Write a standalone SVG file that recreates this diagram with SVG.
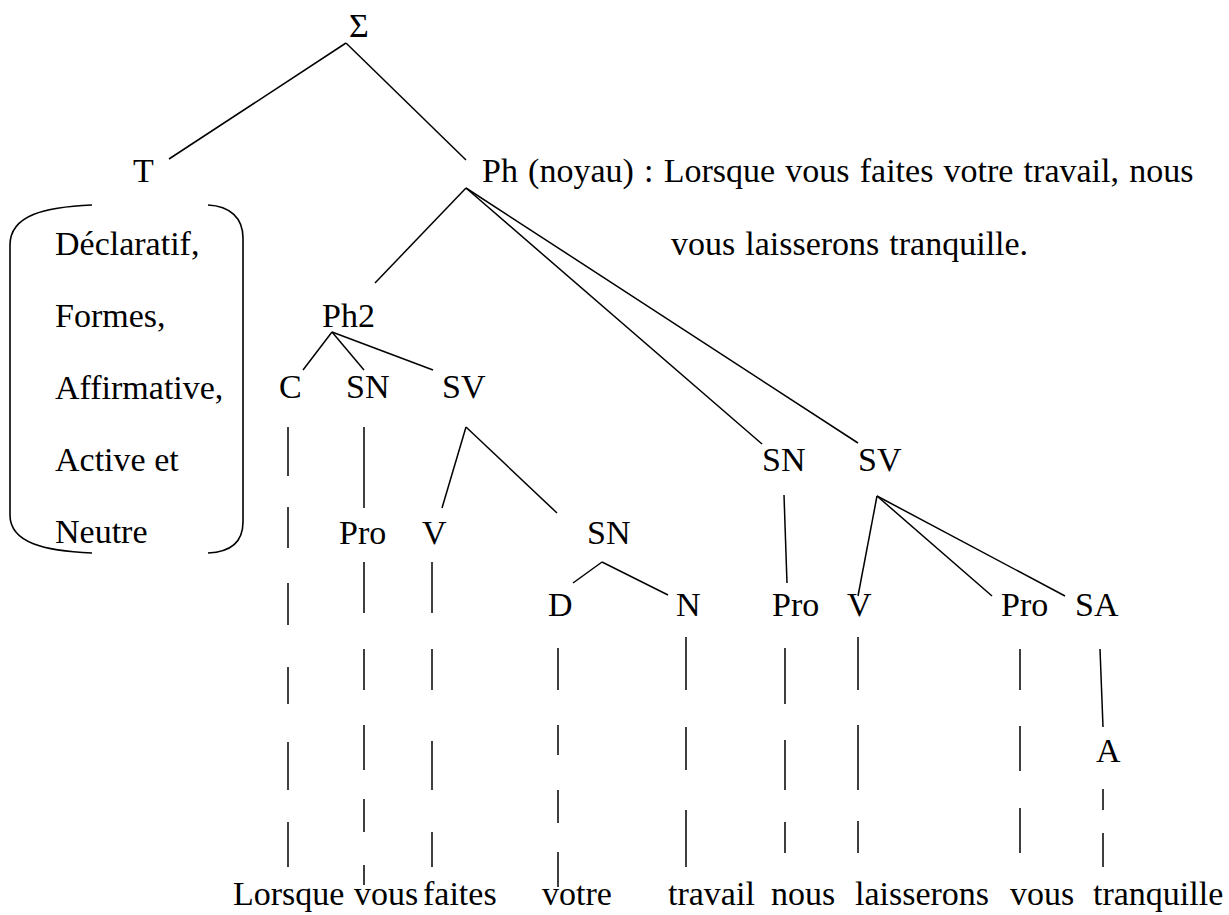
<svg xmlns="http://www.w3.org/2000/svg" width="1229" height="915" viewBox="0 0 1229 915">
  <style>
    text { font-family: "Liberation Serif", "Times New Roman", serif; font-size: 34px; fill: #000; }
    .edge { stroke: #000; stroke-width: 1.5; fill: none; stroke-linecap: butt; }
    .dash { stroke: #000; stroke-width: 1.5; fill: none; }
    .brace { stroke: #000; stroke-width: 1.6; fill: none; }
  </style>
  <rect width="1229" height="915" fill="#fff"/>

  <!-- tree nodes -->
  <g id="n-sigma"><text x="349" y="37">Σ</text></g>
  <g id="n-T"><text x="133" y="182">T</text></g>
  <g id="n-Ph">
    <text x="482" y="182" word-spacing="1.7">Ph (noyau) : Lorsque vous faites votre travail, nous</text>
    <text x="671" y="255" word-spacing="1.5">vous laisserons tranquille.</text>
  </g>
  <g id="n-T-features">
    <path class="brace" d="M92,205 C45,207 10,215 10,245 L10,515 C10,543 45,551 92,553"/>
    <path class="brace" d="M208,205 C230,206 243,218 243,238 L243,522 C243,542 230,552 208,553"/>
    <text x="55" y="255">Déclaratif,</text>
    <text x="55" y="327">Formes,</text>
    <text x="55" y="399">Affirmative,</text>
    <text x="55" y="471">Active et</text>
    <text x="55" y="543">Neutre</text>
  </g>
  <g id="n-Ph2"><text x="322" y="327">Ph2</text></g>
  <g id="n-C"><text x="279" y="398">C</text></g>
  <g id="n-SN1"><text x="346" y="398">SN</text></g>
  <g id="n-SV1"><text x="442" y="398">SV</text></g>
  <g id="n-Pro1"><text x="339" y="544">Pro</text></g>
  <g id="n-V1"><text x="422" y="544">V</text></g>
  <g id="n-SN2"><text x="587" y="544">SN</text></g>
  <g id="n-D"><text x="548" y="616">D</text></g>
  <g id="n-N"><text x="676" y="616">N</text></g>
  <g id="n-SN3"><text x="762" y="471">SN</text></g>
  <g id="n-SV3"><text x="858" y="471">SV</text></g>
  <g id="n-Pro3"><text x="772" y="616">Pro</text></g>
  <g id="n-V3"><text x="847" y="616">V</text></g>
  <g id="n-Pro4"><text x="1001" y="616">Pro</text></g>
  <g id="n-SA"><text x="1075" y="616">SA</text></g>
  <g id="n-A"><text x="1096" y="762">A</text></g>

  <!-- terminal words -->
  <g id="words">
    <text x="233" y="905">Lorsque</text>
    <text x="354" y="905">vous</text>
    <text x="423" y="905">faites</text>
    <text x="542" y="905">votre</text>
    <text x="668" y="905">travail</text>
    <text x="771" y="905">nous</text>
    <text x="855" y="905">laisserons</text>
    <text x="1010" y="905">vous</text>
    <text x="1093" y="905">tranquille</text>
  </g>

  <!-- branches -->
  <g id="connectors">
    <line class="edge" x1="346" y1="43" x2="169" y2="159"/>
    <line class="edge" x1="346" y1="43" x2="466" y2="160"/>
    <line class="edge" x1="466" y1="188" x2="375" y2="283"/>
    <line class="edge" x1="466" y1="188" x2="762" y2="444"/>
    <line class="edge" x1="466" y1="188" x2="858" y2="443"/>
    <line class="edge" x1="332" y1="332" x2="303" y2="370"/>
    <line class="edge" x1="332" y1="332" x2="364" y2="370"/>
    <line class="edge" x1="332" y1="332" x2="433" y2="370"/>
    <line class="edge" x1="364" y1="427" x2="364" y2="508"/>
    <line class="edge" x1="466" y1="427" x2="442" y2="508"/>
    <line class="edge" x1="466" y1="427" x2="557" y2="513"/>
    <line class="edge" x1="602" y1="562" x2="573" y2="583"/>
    <line class="edge" x1="602" y1="562" x2="668" y2="595"/>
    <line class="edge" x1="784" y1="495" x2="787" y2="583"/>
    <line class="edge" x1="877" y1="496" x2="858" y2="596"/>
    <line class="edge" x1="877" y1="496" x2="992" y2="596"/>
    <line class="edge" x1="877" y1="496" x2="1065" y2="596"/>
    <line class="edge" x1="1100" y1="649" x2="1103" y2="727"/>

    <!-- dashed links down to the words -->
    <path class="dash" d="M288,427V476M288,507V548M288,583V625M288,667V704M288,742V790M288,822V867"/>
    <path class="dash" d="M364,562V613M364,649V690M364,725V770M364,799V832M364,865V885"/>
    <path class="dash" d="M432,562V613M432,649V690M432,741V790M432,832V867"/>
    <path class="dash" d="M558,648V690M558,725V755M558,790V823M558,852V887"/>
    <path class="dash" d="M686,637V690M686,727V770M686,810V867"/>
    <path class="dash" d="M785,648V704M785,740V790M785,822V853"/>
    <path class="dash" d="M858,637V690M858,725V790M858,821V853"/>
    <path class="dash" d="M1020,649V690M1020,726V771M1020,808V853"/>
    <path class="dash" d="M1103,789V810M1103,833V867"/>
  </g>
</svg>
